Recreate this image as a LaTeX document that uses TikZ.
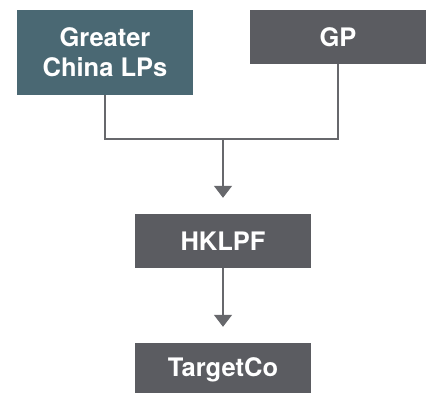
\documentclass[tikz,border=0pt]{standalone}
\usepackage{fontspec}
\setmainfont{TeX Gyre Heros}
\usetikzlibrary{arrows.meta}

\definecolor{boxteal}{HTML}{4A6873}
\definecolor{boxgrey}{HTML}{5B5C61}
\definecolor{linegrey}{HTML}{67686C}

\tikzset{
	entity/.style={fill=#1, text=white, font=\fontsize{25.5}{30}\selectfont\bfseries,
		minimum width=176pt, align=center, inner sep=0pt},
	link/.style={draw=linegrey, line width=1.5pt},
	flow/.style={link, -{Triangle[width=18pt,length=12pt]}, shorten >=16pt}
}

\begin{document}
\begin{tikzpicture}[x=1pt, y=-1pt]
		\useasboundingbox (0,0) rectangle (429,392);
		\clip (0,0) rectangle (429,392);

		\node[entity=boxteal, minimum height=85pt] (lps) at (105, 52.5) {Greater\\China LPs};
		\node[entity=boxgrey, minimum height=54pt] (gp) at (338, 37) {GP};
		\node[entity=boxgrey, minimum height=54pt] (hk) at (223, 241) {HKLPF};
		\node[entity=boxgrey, minimum height=54pt] (target) at (223, 370) {TargetCo};

		\coordinate (join) at (223, 139);
		\draw[link] (lps.south) |- (join) -| (gp.south);
		\draw[flow] (join) -- (hk.north);
		\draw[flow] (hk.south) -- (target.north);
	\end{tikzpicture}
\end{document}
